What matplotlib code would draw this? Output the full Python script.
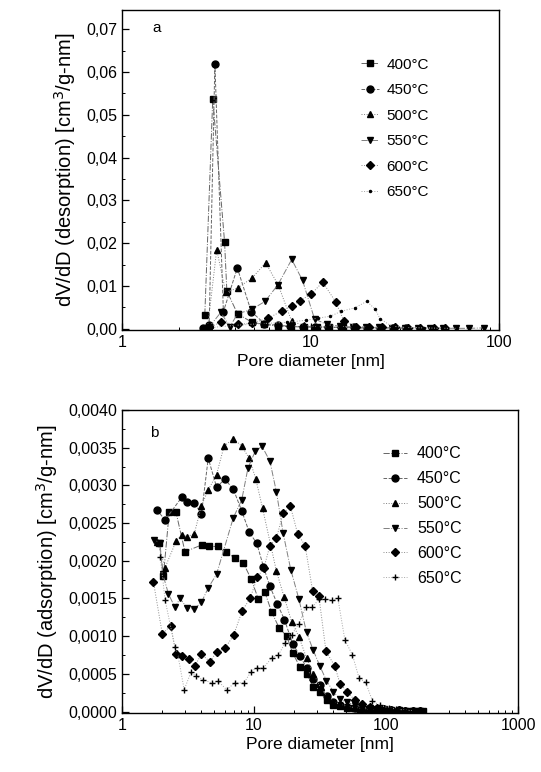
import matplotlib
matplotlib.use("Agg")
import matplotlib.pyplot as plt
from matplotlib.ticker import FuncFormatter, AutoMinorLocator, LogLocator, FixedLocator

plt.rcParams['font.family'] = ['Liberation Sans', 'DejaVu Sans']

temps = ["400°C", "450°C", "500°C", "550°C", "600°C", "650°C"]

# panel a: desorption
a400_x = [2.75, 3.03, 3.50, 3.60, 4.1, 4.9, 5.7, 6.7, 7.9, 9.2, 10.8, 12.6, 14.8, 17.3, 20.2, 23.6]
a400_y = [0.0033, 0.0538, 0.0203, 0.0088, 0.0035, 0.0015, 0.0010, 0.0006, 0.0005, 0.0004, 0.0004,
          0.0003, 0.0003, 0.0002, 0.0002, 0.0002]
a450_x = [2.7, 2.9, 3.11, 3.45, 4.09, 4.85, 5.7, 6.7, 7.8, 9.1, 10.6, 12.4, 14.5, 17.0, 20.0, 23.5, 27.5, 32.0]
a450_y = [0.0002, 0.0008, 0.0620, 0.0040, 0.0142, 0.0040, 0.0012, 0.0008, 0.0006, 0.0005, 0.0004,
          0.0004, 0.0003, 0.0003, 0.0002, 0.0002, 0.0002, 0.0001]
a500_x = [2.85, 3.18, 3.55, 4.1, 4.91, 5.78, 6.75, 7.95, 9.2, 10.8, 12.6, 14.8, 17.3, 20.2, 23.6, 27.6, 32.3, 37.8]
a500_y = [0.0005, 0.0185, 0.0085, 0.0095, 0.0119, 0.0154, 0.0102, 0.0017, 0.0008, 0.0005, 0.0004,
          0.0003, 0.0003, 0.0002, 0.0002, 0.0002, 0.0002, 0.0001]
a550_x = [2.9, 3.34, 3.74, 4.1, 4.87, 5.74, 6.72, 7.95, 9.07, 10.5, 12.2, 14.3, 16.8, 19.7, 23.0, 27.0,
          31.6, 37.0, 43.3, 50.7, 59.3, 69.4, 83.0]
a550_y = [0.0004, 0.0038, 0.0005, 0.0035, 0.0045, 0.0064, 0.0103, 0.0162, 0.0113, 0.0023, 0.0010,
          0.0006, 0.0004, 0.0003, 0.0003, 0.0002, 0.0002, 0.0002, 0.0002, 0.0001, 0.0001, 0.0001, 0.0002]
a600_x = [2.9, 3.34, 4.1, 4.9, 5.97, 7.03, 8.0, 8.8, 10.1, 11.6, 13.6, 15.0, 17.5, 20.5, 24.0, 28.0,
          33.0, 38.0, 45.0, 52.0]
a600_y = [0.0003, 0.0015, 0.0010, 0.0013, 0.0025, 0.0041, 0.0054, 0.0066, 0.0081, 0.0109, 0.0063,
          0.0019, 0.0005, 0.0004, 0.0003, 0.0003, 0.0002, 0.0002, 0.0002, 0.0001]
a650_x = [3.0, 4.0, 5.5, 7.5, 9.5, 11.0, 12.7, 14.6, 17.2, 19.9, 22.0, 23.4, 27.0, 32.0, 40.0, 50.0, 60.0]
a650_y = [0.0003, 0.0008, 0.0012, 0.0015, 0.0020, 0.0025, 0.0029, 0.0041, 0.0049, 0.0064, 0.0046,
          0.0023, 0.0006, 0.0003, 0.0002, 0.0001, 0.0001]

# panel b: adsorption
b400_x = [1.92, 2.06, 2.28, 2.56, 3.0, 4.02, 4.6, 5.3, 6.1, 7.2, 8.3, 9.5, 10.8, 12.1, 13.6, 15.5,
          17.7, 19.6, 22.3, 25.0, 28.2, 31.4, 35.5, 40, 45, 51, 57, 64, 72, 81, 92, 104, 117, 132, 150,
          170, 190]
b400_y = [0.00224, 0.00180, 0.00265, 0.00265, 0.00212, 0.00221, 0.00219, 0.00219, 0.00211, 0.00204,
          0.00197, 0.00176, 0.00149, 0.00158, 0.00132, 0.00111, 0.00100, 0.00078, 0.00059, 0.00050,
          0.00032, 0.00026, 0.00015, 0.00009, 0.00007, 0.00005, 0.00004, 0.00003, 0.00003, 0.00002,
          0.00002, 0.00002, 0.00001, 0.00001, 0.00001, 0.00001, 0.00001]
b450_x = [1.83, 2.12, 2.83, 3.12, 3.53, 4.0, 4.5, 5.2, 6.03, 6.97, 8.08, 9.2, 10.5, 11.8, 13.2, 15.0,
          17.0, 19.6, 22.3, 25, 28.2, 31.5, 35.5, 40, 45, 51, 58, 66, 75, 85, 97, 110, 125, 140, 160, 180]
b450_y = [0.00268, 0.00254, 0.00284, 0.00278, 0.00277, 0.00262, 0.00336, 0.00298, 0.00308, 0.00295,
          0.00266, 0.00238, 0.00223, 0.00192, 0.00166, 0.00143, 0.00122, 0.00090, 0.00074, 0.00058,
          0.00043, 0.00035, 0.00020, 0.00012, 0.00008, 0.00006, 0.00005, 0.00004, 0.00003, 0.00003,
          0.00002, 0.00002, 0.00002, 0.00001, 0.00001, 0.00001]
b500_x = [1.85, 2.12, 2.57, 2.83, 3.12, 3.53, 4.0, 4.5, 5.2, 5.93, 6.97, 8.08, 9.2, 10.3, 11.6, 14.8,
          16.9, 19.3, 21.9, 25, 28.2, 32, 36, 40, 45, 51, 58, 66, 75, 85, 97, 110, 125, 140, 160, 180]
b500_y = [0.00225, 0.00191, 0.00226, 0.00234, 0.00232, 0.00236, 0.00273, 0.00294, 0.00314, 0.00352,
          0.00362, 0.00352, 0.00336, 0.00309, 0.00270, 0.00186, 0.00152, 0.00119, 0.00099, 0.00071,
          0.00050, 0.00032, 0.00020, 0.00013, 0.00009, 0.00007, 0.00005, 0.00004, 0.00003, 0.00003,
          0.00002, 0.00002, 0.00002, 0.00001, 0.00001, 0.00001]
b550_x = [1.75, 1.94, 2.03, 2.25, 2.52, 2.75, 3.12, 3.53, 4.0, 4.5, 5.2, 6.97, 8.08, 9.0, 10.2, 11.5,
          13.2, 14.8, 16.6, 19.0, 21.9, 25, 28, 31.6, 35.4, 40, 45, 51, 58, 66, 75, 85, 97, 110, 125,
          140, 160, 180]
b550_y = [0.00228, 0.00224, 0.00183, 0.00156, 0.00138, 0.00150, 0.00137, 0.00136, 0.00145, 0.00164,
          0.00182, 0.00257, 0.00281, 0.00323, 0.00345, 0.00352, 0.00332, 0.00291, 0.00237, 0.00188,
          0.00149, 0.00105, 0.00082, 0.00060, 0.00041, 0.00026, 0.00016, 0.00012, 0.00009, 0.00006,
          0.00004, 0.00003, 0.00003, 0.00002, 0.00002, 0.00001, 0.00001, 0.00001]
b600_x = [1.73, 2.02, 2.34, 2.57, 2.83, 3.2, 3.57, 4.0, 4.64, 5.2, 6.03, 7.0, 8.15, 9.34, 10.6, 11.9,
          13.2, 14.8, 16.6, 18.9, 21.4, 24.4, 27.8, 31, 35.1, 41, 44.8, 51, 58, 66, 75, 85, 97, 110,
          125, 140, 160, 180]
b600_y = [0.00172, 0.00103, 0.00114, 0.00076, 0.00074, 0.00070, 0.00061, 0.00076, 0.00066, 0.00079,
          0.00084, 0.00101, 0.00134, 0.00150, 0.00178, 0.00191, 0.00220, 0.00230, 0.00263, 0.00272,
          0.00236, 0.00220, 0.00160, 0.00153, 0.00080, 0.00060, 0.00037, 0.00026, 0.00015, 0.00010,
          0.00006, 0.00004, 0.00003, 0.00002, 0.00002, 0.00001, 0.00001, 0.00001]
b650_x = [1.95, 2.12, 2.52, 2.63, 2.96, 3.33, 3.63, 4.13, 4.8, 5.37, 6.2, 7.16, 8.4, 9.5, 10.5, 11.8,
          13.6, 15.3, 17.2, 19.3, 21.8, 24.6, 27.6, 31, 34.7, 38.9, 43.2, 48.8, 55.7, 62.6, 70, 79, 90,
          105, 120, 140, 160]
b650_y = [0.00205, 0.00148, 0.00085, 0.00078, 0.00029, 0.00052, 0.00047, 0.00042, 0.00038, 0.00040,
          0.00029, 0.00038, 0.00038, 0.00053, 0.00058, 0.00058, 0.00071, 0.00075, 0.00091, 0.00102,
          0.00116, 0.00138, 0.00138, 0.00149, 0.00149, 0.00148, 0.00150, 0.00095, 0.00075, 0.00044,
          0.00039, 0.00014, 0.00008, 0.00005, 0.00003, 0.00002, 0.00001]

series_a = [(a400_x, a400_y), (a450_x, a450_y), (a500_x, a500_y),
            (a550_x, a550_y), (a600_x, a600_y), (a650_x, a650_y)]
series_b = [(b400_x, b400_y), (b450_x, b450_y), (b500_x, b500_y),
            (b550_x, b550_y), (b600_x, b600_y), (b650_x, b650_y)]

markers_a = ['s', 'o', '^', 'v', 'D', '.']
markers_b = ['s', 'o', '^', 'v', 'D', '+']
sizes = [4.5, 5, 5, 5, 4.3, 3]
lstyles = ['-.', '--', ':', '-.', ':', ':']
lcolors = ['0.4', '0.4', '0.5', '0.5', '0.55', '0.65']


def comma_fmt(dec):
    return FuncFormatter(lambda v, p: ("{:.%df}" % dec).format(v).replace('.', ','))


def style_axes(ax):
    ax.tick_params(which='both', direction='in', labelsize=11.5, top=False, right=False)
    ax.tick_params(which='major', length=5, width=0.9)
    ax.tick_params(which='minor', length=2.5, width=0.7)
    for s in ax.spines.values():
        s.set_linewidth(1.0)
    ax.xaxis.set_major_formatter(FuncFormatter(lambda v, p: "%d" % round(v)))
    ax.xaxis.set_minor_locator(LogLocator(base=10, subs=range(2, 10)))
    ax.yaxis.set_minor_locator(AutoMinorLocator(2))


fig = plt.figure(figsize=(5.41, 7.72), dpi=100)

# panel a
ax1 = fig.add_axes([0.2255, 0.5725, 0.6969, 0.4145])
for (x, y), t, m, ms, ls, lc in zip(series_a, temps, markers_a, sizes, lstyles, lcolors):
    ax1.plot(x, y, linestyle=ls, color=lc, lw=0.7, marker=m, ms=ms,
             mfc='black', mec='black', label=t)
ax1.set_xscale('log')
ax1.set_xlim(1, 100)
ax1.set_ylim(-0.0003, 0.0745)
ax1.yaxis.set_major_locator(FixedLocator([0, 0.01, 0.02, 0.03, 0.04, 0.05, 0.06, 0.07]))
style_axes(ax1)
ax1.yaxis.set_major_formatter(comma_fmt(2))
ax1.set_xlabel("Pore diameter [nm]", fontsize=12.5, labelpad=3)
ax1.set_ylabel("dV/dD (desorption) [cm$^3$/g-nm]", fontsize=14.5, labelpad=6)
ax1.text(0.08, 0.93, "a", transform=ax1.transAxes, fontsize=11)
ax1.legend(loc='upper left', bbox_to_anchor=(0.613, 0.875), frameon=False, fontsize=11,
           handlelength=1.2, handletextpad=0.5, labelspacing=0.75, borderpad=0)

# panel b
ax2 = fig.add_axes([0.2255, 0.0764, 0.732, 0.3925])
for (x, y), t, m, ms, ls, lc in zip(series_b, temps, markers_b, sizes, lstyles, lcolors):
    if m == '+':
        ms = 4.5
    ax2.plot(x, y, linestyle=ls, color=lc, lw=0.7, marker=m, ms=ms,
             mfc='black', mec='black', mew=1.0, label=t)
ax2.set_xscale('log')
ax2.set_xlim(1, 1000)
ax2.set_ylim(-0.00002, 0.0040)
ax2.yaxis.set_major_locator(FixedLocator([i * 0.0005 for i in range(9)]))
style_axes(ax2)
ax2.yaxis.set_major_formatter(comma_fmt(4))
ax2.set_xlabel("Pore diameter [nm]", fontsize=12.5, labelpad=3)
ax2.set_ylabel("dV/dD (adsorption) [cm$^3$/g-nm]", fontsize=14.5, labelpad=6)
ax2.text(0.07, 0.91, "b", transform=ax2.transAxes, fontsize=11)
ax2.legend(loc='upper left', bbox_to_anchor=(0.64, 0.906), frameon=False, fontsize=11.5,
           handlelength=1.5, handletextpad=0.6, labelspacing=0.62, borderpad=0)

fig.savefig("out.png", dpi=100)
